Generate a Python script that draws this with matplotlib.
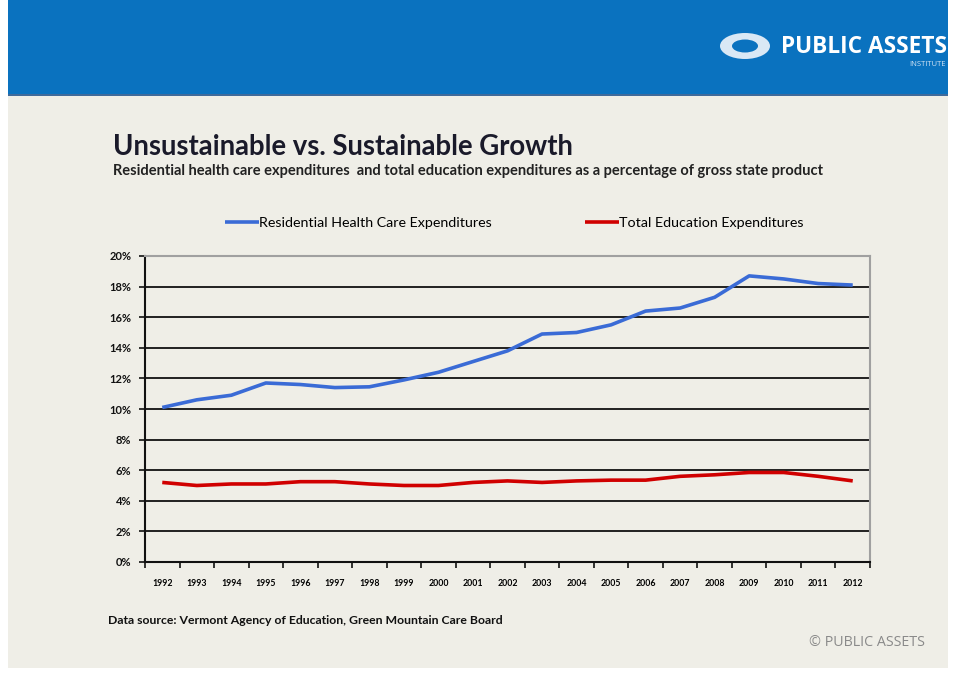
import matplotlib.pyplot as plt
from matplotlib.patches import Rectangle, Ellipse
from matplotlib.ticker import FixedLocator, FuncFormatter

lAnnees = list(range(1992, 2013))
lSante = [10.1, 10.6, 10.9, 11.7, 11.6, 11.4, 11.45, 11.9, 12.4, 13.1, 13.8,
          14.9, 15.0, 15.5, 16.4, 16.6, 17.3, 18.7, 18.5, 18.2, 18.1]
lEducation = [5.2, 5.0, 5.1, 5.1, 5.25, 5.25, 5.1, 5.0, 5.0, 5.2, 5.3,
              5.2, 5.3, 5.35, 5.35, 5.6, 5.7, 5.85, 5.85, 5.6, 5.3]
lTicksY = [0, 2, 4, 6, 8, 10, 12, 14, 16, 18, 20]
nomSante = "Residential Health Care Expenditures"
nomEducation = "Total Education Expenditures"

W, H = 956, 673
fig = plt.figure(figsize=(W/100, H/100), dpi=100)
fig.patch.set_facecolor("white")

def px(x, y):
    return x/W, 1 - y/H

# fond et bandeau
fig.patches.append(Rectangle(px(8, 668), 940/W, 668/H, transform=fig.transFigure,
                             facecolor="#EFEEE7", edgecolor="none", zorder=-3))
fig.patches.append(Rectangle(px(8, 95), 940/W, 95/H, transform=fig.transFigure,
                             facecolor="#0A72BF", edgecolor="none", zorder=-2))
fig.patches.append(Rectangle(px(8, 96), 940/W, 2/H, transform=fig.transFigure,
                             facecolor="#3F6A9A", edgecolor="none", zorder=-2))
# logo
fig.patches.append(Ellipse(px(745, 46), 50/W, 26/H, transform=fig.transFigure,
                           facecolor="#D9E8F5", edgecolor="none", zorder=-1))
fig.patches.append(Ellipse(px(745, 46), 26/W, 13/H, transform=fig.transFigure,
                           facecolor="#0A72BF", edgecolor="none", zorder=-1))
fig.text(*px(781, 47), "PUBLIC ASSETS", color="white", fontsize=16.3, fontweight="bold",
         family="Open Sans", va="center", ha="left")
fig.text(*px(946, 64), "INSTITUTE", color="#CFE2F3", fontsize=5.5, family="Open Sans",
         va="center", ha="right")

# titres
fig.text(*px(113, 147), "Unsustainable vs. Sustainable Growth", fontsize=19.8, fontweight="bold",
         family="Lato", color="#1A1A2A", va="center", ha="left")
fig.text(*px(113, 171), "Residential health care expenditures  and total education expenditures as a percentage of gross state product",
         fontsize=10.5, fontweight="bold", family="Lato", color="#222222", va="center", ha="left")

ax = fig.add_axes([145/W, (H-562)/H, 725/W, 306/H])
ax.set_zorder(5)
ax.set_facecolor("#EFEEE7")
x = list(range(len(lAnnees)))
ax.plot(x, lSante, color="#3A6BD6", linewidth=2.6, label=nomSante, solid_capstyle="butt")
ax.plot(x, lEducation, color="#D00000", linewidth=2.6, label=nomEducation, solid_capstyle="butt")
ax.set_xlim(-0.5, len(lAnnees)-0.5)
ax.set_ylim(0, 20)

ax.yaxis.set_major_locator(FixedLocator(lTicksY))
ax.yaxis.set_major_formatter(FuncFormatter(lambda v, p: f"{int(v)}%"))
ax.grid(axis="y", color="#111111", linewidth=1.3)
ax.set_axisbelow(True)
ax.tick_params(axis="y", length=4, width=1.2, labelsize=8, pad=6, colors="#111111")
for t in ax.get_yticklabels():
    t.set_fontweight("bold")
    t.set_family("Lato")

ax.set_xticks(x)
ax.set_xticklabels([str(a) for a in lAnnees], fontsize=6.3, fontweight="bold", family="Lato")
ax.tick_params(axis="x", which="major", length=0, pad=12)
ax.set_xticks([i - 0.5 for i in range(len(lAnnees)+1)], minor=True)
ax.tick_params(axis="x", which="minor", length=4, width=1.2, colors="#111111")

ax.spines["left"].set_color("#111111")
ax.spines["left"].set_linewidth(1.5)
ax.spines["bottom"].set_color("#111111")
ax.spines["bottom"].set_linewidth(1.5)
ax.spines["top"].set_color("#A0A0A0")
ax.spines["right"].set_color("#A0A0A0")
ax.spines["top"].set_linewidth(1.5)
ax.spines["right"].set_linewidth(1.5)

fig.legend(loc="center", bbox_to_anchor=px(514, 223), ncol=2, frameon=False,
           handlelength=2.4, handletextpad=0.0, columnspacing=6.5,
           prop={"family": "Lato", "size": 10.3})

fig.text(*px(108, 620), "Data source: Vermont Agency of Education, Green Mountain Care Board",
         fontsize=8.8, fontweight="bold", family="Lato", color="#111111", va="center", ha="left")
fig.text(*px(925, 643), "\u00a9 PUBLIC ASSETS", fontsize=10.3, family="Open Sans",
         color="#8A8A8A", va="center", ha="right")

fig.savefig("out.png", dpi=100, facecolor=fig.get_facecolor())
